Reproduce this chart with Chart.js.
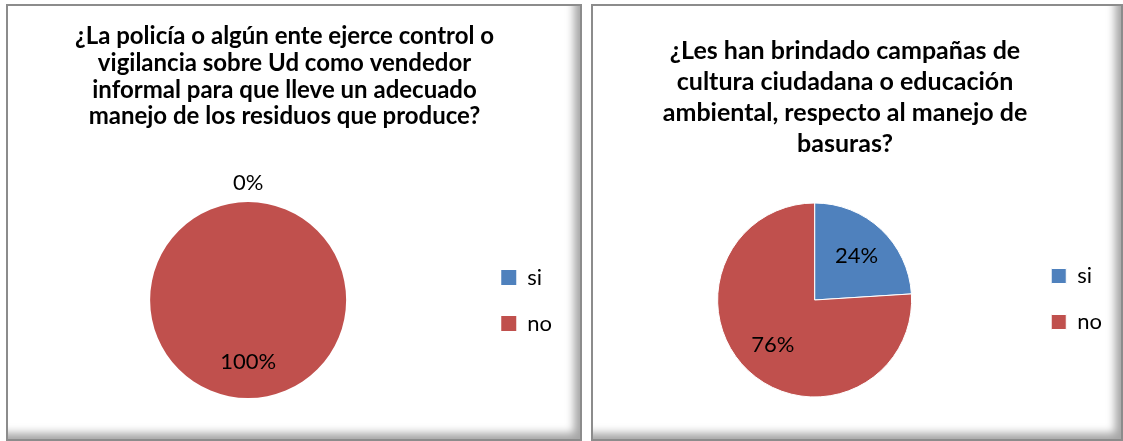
<!DOCTYPE html>
<html>
<head>
<meta charset="utf-8">
<script src="https://cdn.jsdelivr.net/npm/chart.js@4.4.0/dist/chart.umd.min.js"></script>
<style>
  html, body { margin: 0; padding: 0; background: #fff; }
  body { width: 1123px; height: 441px; position: relative; overflow: hidden; }
  .panel {
    position: absolute; top: 4px; height: 437px; box-sizing: border-box;
    border: 2px solid #8c8c8c; background: #fff;
    box-shadow: inset -10px -10px 8px -4px rgba(0,0,0,0.35);
  }
  .wrap { position: absolute; top: 0; height: 441px; }
</style>
</head>
<body>
<div class="panel" style="left:6px; width:576px;"></div>
<div class="panel" style="left:591px; width:532px;"></div>
<div class="wrap" style="left:0; width:585px;"><canvas id="graficoPolicia"></canvas></div>
<div class="wrap" style="left:575px; width:548px;"><canvas id="graficoCampanas"></canvas></div>

<script>
// datos
const categorias = ["si", "no"];
const valoresPolicia = [0, 100];
const valoresCampanas = [24, 76];
const tituloPolicia = [
  "¿La policía o algún ente ejerce control o",
  "vigilancia sobre Ud como vendedor",
  "informal para que lleve un adecuado",
  "manejo de los residuos que produce?"
];
const tituloCampanas = [
  "¿Les han brindado campañas de",
  "cultura ciudadana o educación",
  "ambiental, respecto al manejo de",
  "basuras?"
];
const colores = ["#4F81BD", "#C0504D"];

// porcentajes sobre cada porcion (0% va por fuera)
const etiquetas = {
  id: "etiquetas",
  afterDatasetsDraw(chart) {
    const ctx = chart.ctx;
    const meta = chart.getDatasetMeta(0);
    const datos = chart.data.datasets[0].data;
    const total = datos.reduce((a, b) => a + b, 0);
    ctx.save();
    ctx.font = "22px Lato";
    ctx.fillStyle = "#000";
    ctx.textAlign = "center";
    ctx.textBaseline = "middle";
    meta.data.forEach((arc, i) => {
      const p = arc.getProps(["x", "y", "startAngle", "endAngle", "outerRadius"], true);
      const medio = (p.startAngle + p.endAngle) / 2;
      const dist = datos[i] === 0 ? p.outerRadius + 19 : p.outerRadius * 0.63;
      const texto = Math.round(datos[i] / total * 100) + "%";
      ctx.fillText(texto, p.x + Math.cos(medio) * dist, p.y + Math.sin(medio) * dist);
    });
    ctx.restore();
  }
};

function pastel(id, valores, titulo, cfg) {
  new Chart(document.getElementById(id), {
    type: "pie",
    data: {
      labels: categorias,
      datasets: [{
        data: valores,
        backgroundColor: colores,
        borderColor: "#fff",
        borderWidth: cfg.borde,
        hoverOffset: 0,
        radius: cfg.radio
      }]
    },
    options: {
      responsive: true,
      maintainAspectRatio: false,
      animation: false,
      layout: { padding: cfg.padding },
      plugins: {
        title: {
          display: true,
          text: titulo,
          color: "#000",
          font: { family: "Lato", size: cfg.tituloTam, weight: "bold", lineHeight: cfg.interlineado },
          padding: cfg.tituloPadding
        },
        legend: {
          position: "right",
          fullSize: false,
          // titulo vacio: solo empuja las entradas hacia abajo
          title: { display: true, text: "", font: { size: 1, lineHeight: cfg.leyendaDesplaz + "px" }, padding: 0 },
          labels: {
            boxWidth: 15,
            boxHeight: 15,
            padding: cfg.leyendaPadding,
            color: "#000",
            font: { family: "Lato", size: 22, lineHeight: cfg.leyendaAlto + "px" },
            generateLabels(chart) {
              return Chart.overrides.doughnut.plugins.legend.labels.generateLabels(chart)
                .map(l => Object.assign(l, { text: [l.text] }));
            }
          }
        },
        tooltip: { enabled: false }
      }
    },
    plugins: [etiquetas]
  });
}

pastel("graficoPolicia", valoresPolicia, tituloPolicia, {
  borde: 0, radio: 98,
  tituloTam: 24, interlineado: 1.1125,
  tituloPadding: { top: 23.3, bottom: 72 },
  padding: { left: 7, right: 23, top: 0, bottom: 43 },
  leyendaPadding: 12, leyendaAlto: 34, leyendaDesplaz: 13
});

pastel("graficoCampanas", valoresCampanas, tituloCampanas, {
  borde: 1, radio: 97,
  tituloTam: 25, interlineado: 1.228,
  tituloPadding: { top: 36, bottom: 44.2 },
  padding: { left: 3, right: 11, top: 0, bottom: 44 },
  leyendaPadding: 0, leyendaAlto: 46, leyendaDesplaz: 22
});
</script>
</body>
</html>
